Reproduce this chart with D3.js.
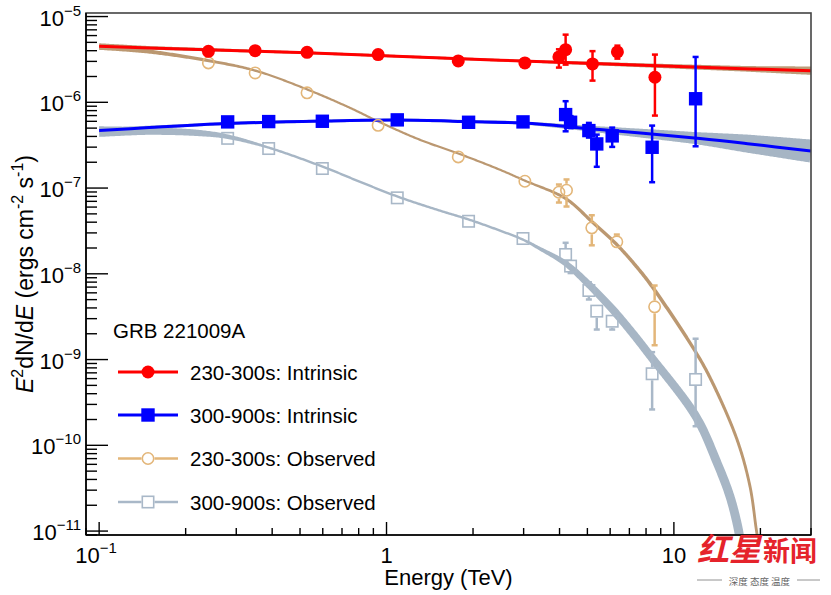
<!DOCTYPE html>
<html><head><meta charset="utf-8">
<script src="https://cdn.jsdelivr.net/npm/d3@7"></script>
<style>
body{margin:0;background:#fff}
svg{display:block}
text{font-family:"Liberation Sans",Arial,Helvetica,sans-serif;fill:#000}
</style>
</head><body>
<svg id="chart" width="831" height="595"></svg>
<script>
// ---------------- DATA ----------------
// 230-300s intrinsic (red filled circles)
const E_intr230 = [0.240, 0.349, 0.529, 0.935, 1.777, 3.03, 3.98, 4.20, 5.21, 6.36, 8.59];
const F_intr230 = [3.93e-6, 4.00e-6, 3.83e-6, 3.60e-6, 3.04e-6, 2.88e-6, 3.38e-6, 4.11e-6, 2.80e-6, 3.87e-6, 1.96e-6];
const Hi_intr230 = [null, null, null, null, null, null, 4.15e-6, 6.15e-6, 3.95e-6, 4.58e-6, 3.60e-6];
const Lo_intr230 = [null, null, null, null, null, null, 2.54e-6, 2.75e-6, 1.79e-6, 3.23e-6, 7.0e-7];

// 300-900s intrinsic (blue filled squares)
const E_intr300 = [0.280, 0.389, 0.598, 1.09, 1.93, 2.985, 4.20, 4.37, 5.06, 5.39, 6.10, 8.40, 11.9];
const F_intr300 = [5.91e-7, 5.96e-7, 6.01e-7, 6.24e-7, 5.85e-7, 5.91e-7, 7.19e-7, 5.85e-7, 4.68e-7, 3.27e-7, 4.06e-7, 2.99e-7, 1.10e-6];
const Hi_intr300 = [null, null, null, null, null, null, 1.03e-6, 6.9e-7, 5.75e-7, 4.2e-7, 5.07e-7, 5.35e-7, 3.38e-6];
const Lo_intr300 = [null, null, null, null, null, null, 4.59e-7, 5.0e-7, 3.88e-7, 1.77e-7, 3.02e-7, 1.17e-7, 3.07e-7];

// 230-300s observed (tan open circles)
const E_obs230 = [0.240, 0.349, 0.529, 0.935, 1.777, 3.03, 3.98, 4.23, 5.18, 6.33, 8.57];
const F_obs230 = [2.88e-6, 2.20e-6, 1.29e-6, 5.39e-7, 2.31e-7, 1.20e-7, 8.94e-8, 9.43e-8, 3.44e-8, 2.36e-8, 4.12e-9];
const Hi_obs230 = [null, null, null, null, null, null, 1.10e-7, 1.26e-7, 4.82e-8, 2.87e-8, 7.3e-9];
const Lo_obs230 = [null, null, null, null, null, null, 6.78e-8, 6.09e-8, 2.15e-8, 2.05e-8, 1.47e-9];

// 300-900s observed (grey open squares)
const E_obs300 = [0.280, 0.389, 0.598, 1.09, 1.93, 2.985, 4.20, 4.37, 5.06, 5.39, 6.10, 8.40, 11.9];
const F_obs300 = [3.80e-7, 2.89e-7, 1.69e-7, 7.69e-8, 4.10e-8, 2.58e-8, 1.68e-8, 1.23e-8, 6.39e-9, 3.67e-9, 2.80e-9, 6.83e-10, 5.86e-10];
const Hi_obs300 = [null, null, null, null, null, null, 2.30e-8, 1.45e-8, 7.98e-9, 4.3e-9, 3.3e-9, 1.22e-9, 1.75e-9];
const Lo_obs300 = [null, null, null, null, null, null, 1.4e-8, 1.02e-8, 5.02e-9, 2.24e-9, 2.24e-9, 2.62e-10, 1.67e-10];

// model curves
const Ecurve_intr230 = [0.1, 0.1493, 0.498, 2.476, 18.4, 30];
const Fcurve_intr230 = [4.50e-6, 4.31e-6, 3.80e-6, 3.10e-6, 2.45e-6, 2.34e-6];

const Ecurve_intr300 = [0.1, 0.1493, 0.2793, 0.5984, 1.092, 1.931, 2.978, 5.52, 12.32, 18.40, 30];
const Fcurve_intr300 = [4.68e-7, 5.07e-7, 5.65e-7, 6.04e-7, 6.20e-7, 5.96e-7, 5.72e-7, 4.81e-7, 3.78e-7, 3.27e-7, 2.70e-7];

const Ecurve_obs230 = [0.1, 0.1493, 0.2398, 0.3497, 0.5305, 0.7433, 0.9378, 1.303, 1.782, 2.476, 3.03, 4.20, 5.18, 6.33, 7.61, 8.59, 11.65, 13.35, 16.58, 18.40, 19.31, 19.62];
const Fcurve_obs230 = [4.35e-6, 3.90e-6, 3.06e-6, 2.34e-6, 1.41e-6, 8.67e-7, 5.96e-7, 3.67e-7, 2.52e-7, 1.64e-7, 1.22e-7, 7.54e-8, 4.07e-8, 2.19e-8, 1.09e-8, 6.39e-9, 1.38e-9, 6.18e-10, 1.17e-10, 3.32e-11, 1.10e-11, 7.7e-12];

const Ecurve_obs300 = [0.1, 0.1493, 0.2230, 0.2793, 0.3880, 0.5984, 0.805, 1.092, 1.530, 1.931, 2.476, 2.978, 3.413, 4.20, 5.055, 6.08, 7.20, 8.25, 11.93, 14.12, 15.67, 16.71, 16.98];
const Fcurve_obs300 = [4.55e-7, 4.62e-7, 4.38e-7, 3.98e-7, 2.97e-7, 1.78e-7, 1.19e-7, 7.96e-8, 5.47e-8, 4.30e-8, 3.20e-8, 2.51e-8, 1.97e-8, 1.32e-8, 7.50e-9, 3.94e-9, 2.01e-9, 1.12e-9, 2.17e-10, 6.32e-11, 2.54e-11, 1.10e-11, 8.0e-12];

// axis ticks
const xTicks = [0.1, 1, 10];
const xTickLabels = [["10", "\u22121"], ["1", ""], ["10", ""]];
const yTicks = [1e-5, 1e-6, 1e-7, 1e-8, 1e-9, 1e-10, 1e-11];
const yTickLabels = [["10","\u22125"],["10","\u22126"],["10","\u22127"],["10","\u22128"],["10","\u22129"],["10","\u221210"],["10","\u221211"]];

const legendTitle = "GRB 221009A";
const legendLabels = ["230-300s: Intrinsic", "300-900s: Intrinsic", "230-300s: Observed", "300-900s: Observed"];

// ---------------- STYLE / LAYOUT ----------------
const C = {
  red: "#ff0000", blue: "#0000ff",
  tanMark: "#e3b679", tanLine: "#bb9871", tanBand: "#bd9d7a",
  greyMark: "#a9b8c8", greyLine: "#a7b6c5", greyBand: "#a6b5c4"
};
const M = {l: 86, r: 811, t: 13, b: 535};
const svg = d3.select("#chart");
const x = d3.scaleLog().domain([0.09, 30]).range([M.l, M.r]);
const y = d3.scaleLog().domain([9e-12, 1.1e-5]).range([M.b, M.t]);

svg.append("defs").append("clipPath").attr("id", "clip")
  .append("rect").attr("x", M.l).attr("y", M.t).attr("width", M.r - M.l).attr("height", M.b - M.t);

const plot = svg.append("g").attr("clip-path", "url(#clip)");
const zip = (E, F) => E.map((e, i) => [e, F[i]]);
const lineGen = d3.line().x(p => x(p[0])).y(p => y(p[1])).curve(d3.curveCatmullRom.alpha(0.5));

// variable-width ribbon along a smooth curve (half-width in px given by style scale)
function ribbon(g, pts, hw, color) {
  const tmp = g.append("path").attr("d", lineGen(pts)).attr("fill", "none");
  const node = tmp.node(), L = node.getTotalLength(), N = 600, s = [];
  for (let i = 0; i <= N; i++) { const p = node.getPointAtLength(L * i / N); s.push([p.x, p.y]); }
  tmp.remove();
  const up = [], dn = [];
  for (let i = 0; i <= N; i++) {
    const a = s[Math.max(0, i - 1)], b = s[Math.min(N, i + 1)];
    let tx = b[0] - a[0], ty = b[1] - a[1];
    const l = Math.hypot(tx, ty) || 1; tx /= l; ty /= l;
    const nx = -ty, ny = tx, w = hw(x.invert(s[i][0]));
    up.push([s[i][0] + nx * w, s[i][1] + ny * w]);
    dn.push([s[i][0] - nx * w, s[i][1] - ny * w]);
  }
  const all = up.concat(dn.reverse());
  g.append("path").attr("d", "M" + all.map(p => p[0].toFixed(2) + "," + p[1].toFixed(2)).join("L") + "Z")
    .attr("fill", color);
}

const hwRedBand = d3.scaleLog().domain([0.1, 0.15, 0.5, 3, 8, 18, 30]).range([3, 1.8, 1.3, 1.3, 2, 2.8, 4.2]).clamp(true);
const hwBlueBand = d3.scaleLog().domain([0.1, 0.2, 3, 4.5, 6, 12, 18, 30]).range([2.5, 1.5, 1.5, 2.5, 3.5, 6, 9, 11.5]).clamp(true);
const hwTan = d3.scaleLog().domain([0.1, 0.15, 0.25, 0.4, 3, 4.5, 9, 20]).range([2.3, 2, 1.5, 1.1, 1.1, 1.6, 1.8, 1.4]).clamp(true);
const hwGrey = d3.scaleLog().domain([0.1, 0.15, 0.22, 0.3, 0.38, 3, 3.6, 4.5, 6, 10, 17]).range([5.3, 3.7, 3.2, 2, 1.2, 1.2, 2, 3.2, 4, 4.2, 4.5]).clamp(true);

// observed model curves
ribbon(plot, zip(Ecurve_obs230, Fcurve_obs230), hwTan, C.tanLine);
ribbon(plot, zip(Ecurve_obs300, Fcurve_obs300), hwGrey, C.greyLine);
// intrinsic bands
ribbon(plot, zip(Ecurve_intr230, Fcurve_intr230), hwRedBand, C.tanBand);
ribbon(plot, zip(Ecurve_intr300, Fcurve_intr300), hwBlueBand, C.greyBand);
// intrinsic lines
plot.append("path").attr("d", lineGen(zip(Ecurve_intr230, Fcurve_intr230))).attr("fill", "none").attr("stroke", C.red).attr("stroke-width", 3);
plot.append("path").attr("d", lineGen(zip(Ecurve_intr300, Fcurve_intr300))).attr("fill", "none").attr("stroke", C.blue).attr("stroke-width", 3);

// points with error bars
function marker(g, cx, cy, opt) {
  const r = opt.r;
  if (opt.shape === "circle") {
    g.append("circle").attr("cx", cx).attr("cy", cy).attr("r", opt.open ? r - 0.8 : r)
      .attr("fill", opt.open ? "none" : opt.color).attr("stroke", opt.open ? opt.color : "none").attr("stroke-width", 1.6);
  } else {
    const s = opt.open ? 2 * r - 1.6 : 2 * r;
    g.append("rect").attr("x", cx - s / 2).attr("y", cy - s / 2).attr("width", s).attr("height", s)
      .attr("fill", opt.open ? "none" : opt.color).attr("stroke", opt.open ? opt.color : "none").attr("stroke-width", 1.6);
  }
}
function series(E, F, Hi, Lo, opt) {
  const g = plot.append("g");
  E.forEach((e, i) => {
    const cx = x(e), cy = y(F[i]), r = opt.r;
    const gap = opt.open ? r : 0;
    if (Hi[i] != null) {
      const yh = y(Hi[i]);
      if (yh < cy - gap) {
        g.append("line").attr("x1", cx).attr("x2", cx).attr("y1", yh).attr("y2", cy - gap).attr("stroke", opt.color).attr("stroke-width", opt.ew);
        g.append("line").attr("x1", cx - 3).attr("x2", cx + 3).attr("y1", yh).attr("y2", yh).attr("stroke", opt.color).attr("stroke-width", 2.5);
      }
    }
    if (Lo[i] != null) {
      const yl = y(Lo[i]);
      if (yl > cy + gap) {
        g.append("line").attr("x1", cx).attr("x2", cx).attr("y1", cy + gap).attr("y2", yl).attr("stroke", opt.color).attr("stroke-width", opt.ew);
        g.append("line").attr("x1", cx - 3).attr("x2", cx + 3).attr("y1", yl).attr("y2", yl).attr("stroke", opt.color).attr("stroke-width", 2.5);
      }
    }
    marker(g, cx, cy, opt);
  });
}
const optObs230 = {color: C.tanMark, shape: "circle", open: true, r: 6.5, ew: 2.5};
const optObs300 = {color: C.greyMark, shape: "square", open: true, r: 6.5, ew: 2.5};
const optIntr230 = {color: C.red, shape: "circle", open: false, r: 6.5, ew: 2.5};
const optIntr300 = {color: C.blue, shape: "square", open: false, r: 6.7, ew: 2.5};
series(E_obs230, F_obs230, Hi_obs230, Lo_obs230, optObs230);
series(E_obs300, F_obs300, Hi_obs300, Lo_obs300, optObs300);
series(E_intr230, F_intr230, Hi_intr230, Lo_intr230, optIntr230);
series(E_intr300, F_intr300, Hi_intr300, Lo_intr300, optIntr300);

// ---------------- AXES ----------------
const ax = svg.append("g");
ax.append("rect").attr("x", M.l).attr("y", M.t).attr("width", M.r - M.l).attr("height", M.b - M.t)
  .attr("fill", "none").attr("stroke", "#444").attr("stroke-width", 1.6);
ax.append("line").attr("x1", M.l).attr("x2", M.l).attr("y1", M.t).attr("y2", M.b).attr("stroke", "#000").attr("stroke-width", 1.6);
ax.append("line").attr("x1", M.l).attr("x2", M.r).attr("y1", M.b).attr("y2", M.b).attr("stroke", "#000").attr("stroke-width", 1.6);

y.ticks(60).forEach(v => {
  const lg = Math.log10(v), major = Math.abs(lg - Math.round(lg)) < 1e-6;
  const yy = y(v); if (yy < M.t - 0.5 || yy > M.b + 0.5) return;
  ax.append("line").attr("x1", M.l).attr("x2", M.l + (major ? 22 : 11)).attr("y1", yy).attr("y2", yy).attr("stroke", "#000").attr("stroke-width", 1.4);
});
x.ticks(40).forEach(v => {
  const lg = Math.log10(v), major = Math.abs(lg - Math.round(lg)) < 1e-6;
  const xx = x(v); if (xx < M.l - 0.5 || xx > M.r + 0.5) return;
  ax.append("line").attr("y1", M.b).attr("y2", M.b - (major ? 13 : 7)).attr("x1", xx).attr("x2", xx).attr("stroke", "#000").attr("stroke-width", 1.4);
});

yTicks.forEach((v, i) => {
  const t = ax.append("text").attr("x", 81).attr("y", y(v) + 9).attr("text-anchor", "end").attr("font-size", 22);
  t.append("tspan").text(yTickLabels[i][0]);
  t.append("tspan").attr("font-size", 15).attr("dy", -10).text(yTickLabels[i][1]);
});
xTicks.forEach((v, i) => {
  const t = ax.append("text").attr("x", x(v) - (i === 0 ? 3 : 0)).attr("y", 563).attr("text-anchor", "middle").attr("font-size", 22);
  t.append("tspan").text(xTickLabels[i][0]);
  if (xTickLabels[i][1]) t.append("tspan").attr("font-size", 15).attr("dy", -10).text(xTickLabels[i][1]);
});

ax.append("text").attr("x", (M.l + M.r) / 2).attr("y", 585).attr("text-anchor", "middle").attr("font-size", 22).text("Energy (TeV)");

const yt = ax.append("text").attr("transform", `translate(33,${(M.t + M.b) / 2}) rotate(-90)`).attr("text-anchor", "middle").attr("font-size", 23);
yt.append("tspan").attr("font-style", "italic").text("E");
yt.append("tspan").attr("font-size", 16).attr("dy", -10).text("2");
yt.append("tspan").attr("dy", 10).text("dN/d");
yt.append("tspan").attr("font-style", "italic").text("E");
yt.append("tspan").text(" (ergs cm");
yt.append("tspan").attr("font-size", 16).attr("dy", -10).text("-2");
yt.append("tspan").attr("dy", 10).text(" s");
yt.append("tspan").attr("font-size", 16).attr("dy", -10).text("-1");
yt.append("tspan").attr("dy", 10).text(")");

// ---------------- LEGEND ----------------
const lg = svg.append("g");
lg.append("text").attr("x", 113).attr("y", 338).attr("font-size", 20.5).text(legendTitle);
const legOpts = [optIntr230, optIntr300, optObs230, optObs300];
const legLine = [C.red, C.blue, C.tanMark, C.greyMark];
const legY = [372, 415, 458.5, 502];
legendLabels.forEach((lab, i) => {
  const o = legOpts[i], yy = legY[i], cx = 148;
  const gap = o.open ? o.r : 0;
  lg.append("line").attr("x1", 118).attr("x2", cx - gap).attr("y1", yy).attr("y2", yy).attr("stroke", legLine[i]).attr("stroke-width", o.open ? 2.5 : 3);
  lg.append("line").attr("x1", cx + gap).attr("x2", 178).attr("y1", yy).attr("y2", yy).attr("stroke", legLine[i]).attr("stroke-width", o.open ? 2.5 : 3);
  marker(lg, cx, yy, o);
  lg.append("text").attr("x", 190).attr("y", yy + 7.5).attr("font-size", 20.5).text(lab);
});

// ---------------- WATERMARK ----------------
const wm = svg.append("g");
wm.append("text").attr("x", 697).attr("y", 561).attr("font-size", 32).attr("font-weight", "bold")
  .style("font-family", "'Noto Sans CJK SC',sans-serif").style("fill", "#e5232b").attr("font-style", "italic").text("红星");
wm.append("text").attr("x", 763).attr("y", 561).attr("font-size", 27).attr("font-weight", "bold")
  .style("font-family", "'Noto Sans CJK SC',sans-serif").style("fill", "#e5232b").text("新闻");
wm.append("line").attr("x1", 697).attr("x2", 722).attr("y1", 580).attr("y2", 580).attr("stroke", "#777").attr("stroke-width", 0.8);
wm.append("line").attr("x1", 797).attr("x2", 820).attr("y1", 580).attr("y2", 580).attr("stroke", "#777").attr("stroke-width", 0.8);
wm.append("text").attr("x", 759.5).attr("y", 585).attr("text-anchor", "middle").attr("font-size", 9.5)
  .style("font-family", "'Noto Sans CJK SC',sans-serif").style("fill", "#666").text("深度 态度 温度");
</script>
</body></html>
